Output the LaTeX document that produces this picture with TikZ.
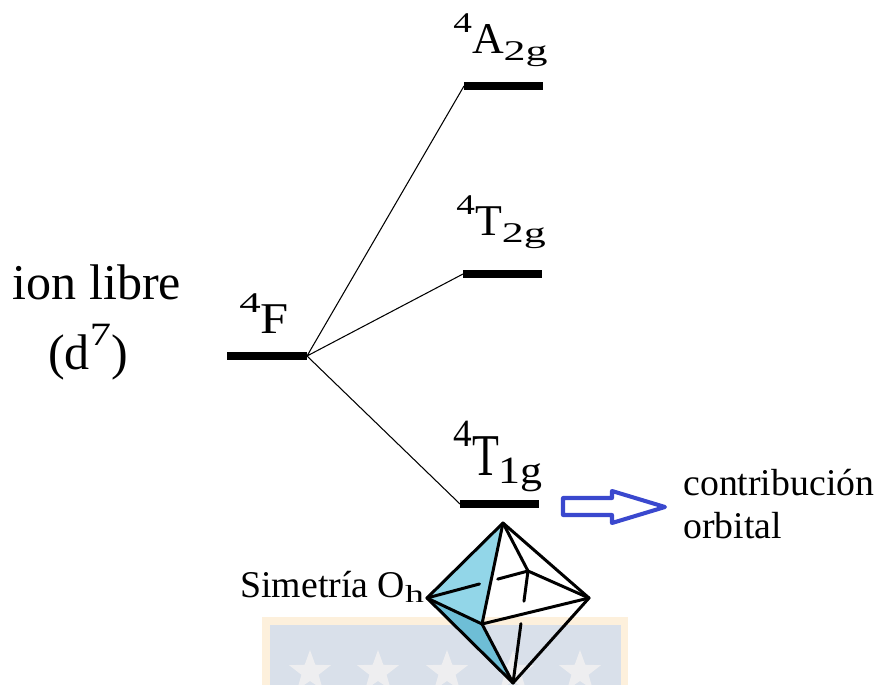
\documentclass[tikz,border=0pt]{standalone}
\usepackage{fontspec}
\setmainfont{Liberation Serif}
\usepackage{graphicx}
\usetikzlibrary{calc}

\definecolor{flechaazul}{RGB}{58,72,206}
\definecolor{caraclara}{RGB}{146,214,232}
\definecolor{caraoscura}{RGB}{110,190,214}
\definecolor{fondonaranja}{RGB}{253,240,220}
\definecolor{fondoazul}{RGB}{217,224,234}
\definecolor{fondoestrella}{RGB}{238,238,240}

% indices del termino espectroscopico
\newcommand{\supind}[1]{\raisebox{0.48em}{\scalebox{0.85}[0.65]{#1}}}
\newcommand{\subind}[1]{\raisebox{-0.14em}{\scalebox{1}[0.65]{#1}}}

\begin{document}
\begin{tikzpicture}[x=0.02cm,y=-0.02cm,
    nivel/.style={line width=4.6pt},
    enlace/.style={line width=0.6pt},
    arista/.style={line width=1.7pt,line cap=round,line join=round},
    grande/.style={font=\fontsize{28.5}{32}\selectfont},
    texto/.style={font=\fontsize{21.5}{25}\selectfont,inner sep=0pt,anchor=base west},
    termino/.style={font=\fontsize{25}{28}\selectfont,inner sep=0pt,anchor=base west}]
\useasboundingbox (0,0) rectangle (875,685);

% logo de fondo
\fill[fondonaranja] (262,617) rectangle (628,685);
\fill[fondoazul] (270,625) rectangle (621,685);
\foreach \sx in {310,378,447,513,580}
  \fill[fondoestrella,shift={(\sx,672)}] (-90:22)
    \foreach \k in {1,...,9}{ -- ({-90+36*\k}:{15.5+6.5*cos(180*\k)}) } -- cycle;

% niveles
\coordinate (F1) at (227,356);  \coordinate (F2) at (307,356);
\coordinate (A1) at (464,86);   \coordinate (A2) at (543,86);
\coordinate (Tb1) at (463,274); \coordinate (Tb2) at (542,274);
\coordinate (Ta1) at (460,504); \coordinate (Ta2) at (539,504);
\draw[nivel] (F1) -- (F2);
\draw[nivel] (A1) -- (A2);
\draw[nivel] (Tb1) -- (Tb2);
\draw[nivel] (Ta1) -- (Ta2);
\draw[enlace] (F2) -- (A1) (F2) -- (Tb1) (F2) -- (Ta1);

\node[grande,anchor=base] (ion) at (97,300) {ion libre};
\node[grande,anchor=base] (conf) at (88,370) {(d\supind{7})};
\node[termino] (lF) at (239,334) {\scalebox{1.15}[1]{\supind{4}F}};
\node[termino] (lA) at (453,54) {\supind{4}A\subind{2g}};
\node[termino] (lTb) at (456,236) {\supind{4}T\subind{2g}};
\node[termino] (lTa) at (453,475) {\scalebox{1}[1.35]{\supind{4}T\subind{1g}}};

% flecha hacia el texto
\draw[flechaazul,line width=2.3pt,line join=round]
  (563,498) -- (612,498) -- (612,491) -- (665,507) -- (612,523) -- (612,515) -- (563,515) -- cycle;
\node[texto] (contrib) at (683,495) {contribución};
\node[texto] (orb) at (683,538) {orbital};

% octaedro
\coordinate (Ts) at (503,523);
\coordinate (Lz) at (427,598);
\coordinate (Ri) at (589,598);
\coordinate (Bo) at (513,683);
\coordinate (Fr) at (482,624);
\coordinate (Kp) at (528,571);
\fill[caraclara] (Ts) -- (Lz) -- (Fr) -- cycle;
\fill[caraoscura] (Lz) -- (Fr) -- (Bo) -- cycle;
\draw[arista] (Ts) -- (Kp) -- (Ri);
\draw[arista] (Lz) -- ($(Lz)!0.52!(Kp)$) ($(Lz)!0.70!(Kp)$) -- (Kp);
\draw[arista] (Kp) -- ($(Kp)!0.27!(Bo)$) ($(Kp)!0.47!(Bo)$) -- (Bo);
\draw[arista] (Ts) -- (Lz) -- (Bo) -- (Ri) -- cycle;
\draw[arista] (Ts) -- (Fr) -- (Bo) (Lz) -- (Fr) -- (Ri);
\node[texto] (sim) at (240,597) {Simetría O\subind{h}};
\end{tikzpicture}
\end{document}
